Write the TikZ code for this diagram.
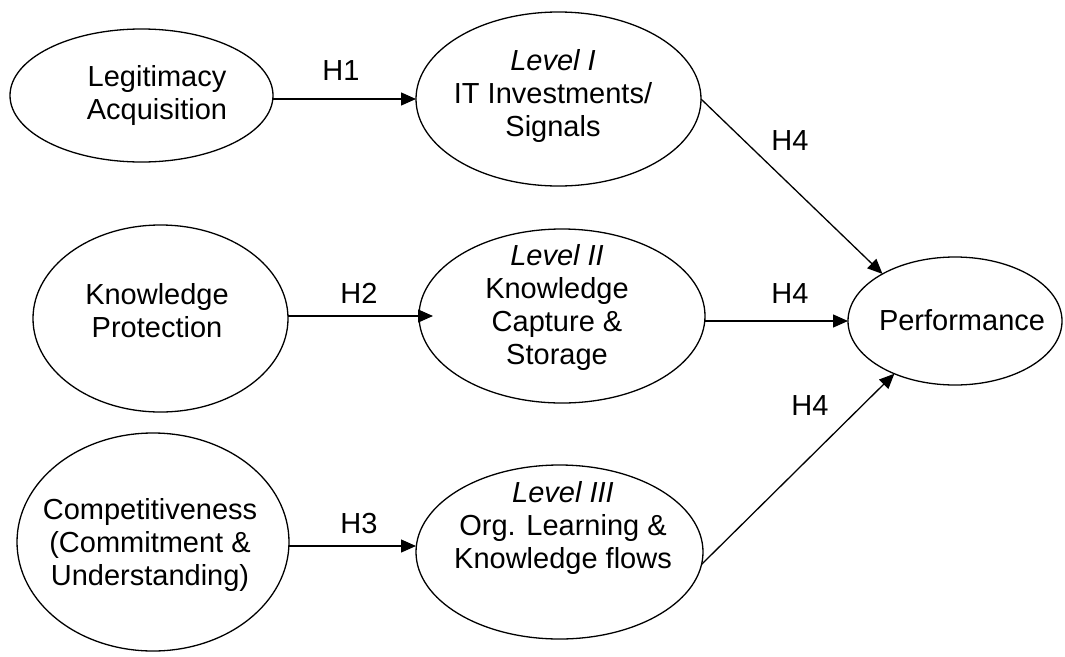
\documentclass[tikz,border=0pt]{standalone}
\usepackage{fontspec}
\setmainfont{Liberation Sans}
\usetikzlibrary{arrows.meta,calc,shapes.geometric}
\begin{document}
\begin{tikzpicture}[x=1pt,y=-1pt,
  ell/.style={draw,ellipse,inner sep=0pt,outer sep=0pt,line width=1.3pt},
  txt/.style={inner sep=0pt,align=center,font=\fontsize{29}{33}\selectfont},
  hlab/.style={inner sep=0pt,anchor=base,font=\fontsize{29}{33}\selectfont},
  arr/.style={line width=1.3pt,-{Triangle[length=15pt,width=13pt]}}]
\useasboundingbox (0,0) rectangle (1065,656);
% ellipses
\node[ell,minimum width=263pt,minimum height=133pt] (la) at (141.5,95.5) {};
\node[ell,minimum width=285pt,minimum height=174pt] (l1) at (558.5,99) {};
\node[ell,minimum width=255pt,minimum height=187pt] (kp) at (160.5,318.5) {};
\node[ell,minimum width=286pt,minimum height=174pt] (l2) at (562,316) {};
\node[ell,minimum width=214pt,minimum height=128pt] (perf) at (955,321) {};
\node[ell,minimum width=272pt,minimum height=218pt] (comp) at (153,542) {};
\node[ell,minimum width=287pt,minimum height=174pt] (l3) at (559.5,552) {};
% texts
\node[txt] (la-t) at (157,96.7) {\strut Legitimacy\\\strut Acquisition};
\node[txt] (l1-t) at (553,97.1) {\strut\itshape Level I\\\strut IT Investments/\\\strut Signals};
\node[txt] (kp-t) at (157,314.2) {\strut Knowledge\\\strut Protection};
\node[txt] (l2-t) at (557,308.4) {\strut\itshape Level II\\\strut Knowledge\\\strut Capture \&\\\strut Storage};
\node[txt] (perf-t) at (962,323.4) {\strut Performance};
\node[txt] (comp-t) at (150,545.4) {\strut Competitiveness\\\strut (Commitment \&\\\strut Understanding)};
\node[txt] (l3-t) at (563,528.4) {\strut\itshape Level III\\\strut Org. Learning \&\\\strut Knowledge flows};
% hypothesis labels
\node[hlab] (h1) at (341,80) {H1};
\node[hlab] (h2) at (359,303) {H2};
\node[hlab] (h3) at (359,533) {H3};
\node[hlab] (h4a) at (790,150) {H4};
\node[hlab] (h4b) at (790,303) {H4};
\node[hlab] (h4c) at (810,415) {H4};
% connectors
\coordinate (h3y) at (0,546);
\draw[arr] (la.east |- l1.west) -- (l1.west);
\draw[arr] (kp.east |- l2.west) -- ($(l2.west)+(14,0)$);
\draw[arr] (comp.east |- h3y) -- (l3.west |- h3y);
\draw[arr] (l1.east) -- (perf.147);
\draw[arr] (l2.east |- perf.west) -- (perf.west);
\draw[arr] (l3.-5) -- (perf.221);
\end{tikzpicture}
\end{document}
